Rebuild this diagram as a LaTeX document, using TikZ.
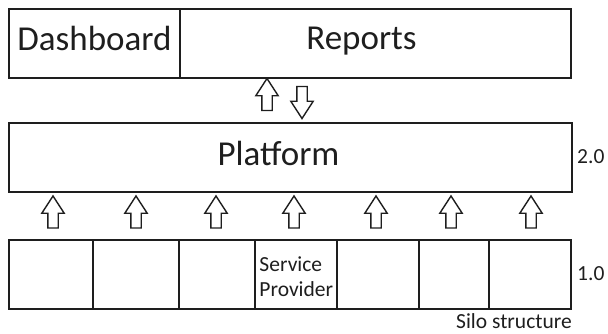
\documentclass[tikz,border=0pt]{standalone}
\usepackage{fontspec}
\setmainfont{Carlito}
\usepackage{tikz}
\usetikzlibrary{calc,shapes.arrows}
\definecolor{ink}{HTML}{1E1E1E}
\tikzset{
  box/.style={draw=ink, line width=1.6pt, rectangle, inner sep=0pt, anchor=north west},
  blockarrow/.style={draw=ink, line width=1.4pt, fill=white, single arrow,
    single arrow head extend=6pt, single arrow tip angle=66, single arrow head indent=0pt,
    inner xsep=0pt, inner ysep=4.5pt, minimum height=32pt, minimum width=1pt},
  big/.style={text=ink, font=\fontsize{35}{42}\selectfont, inner sep=0pt},
  small/.style={text=ink, font=\fontsize{21.5}{25}\selectfont, inner sep=0pt}
}

\begin{document}
\begin{tikzpicture}[x=1pt, y=-1pt]
  \useasboundingbox (0,0) rectangle (608,334);

  % top layer
  \node[box, minimum width=171pt, minimum height=69pt] (dash) at (8,8) {};
  \node[box, minimum width=391pt, minimum height=69pt] (reports) at (179,8) {};
  \node[big, anchor=base] (dashtxt) at (94.5,51) {Dashboard};
  \node[big, anchor=base] (reptxt) at (361.5,49.5) {Reports};

  % platform
  \node[box, minimum width=563pt, minimum height=69pt] (plat) at (8,122) {};
  \node[big, anchor=base] (plattxt) at (278.5,165) {Platform};
  \node[small, anchor=west] (v2) at (577,156.5) {2.0};

  % silos
  \foreach \i/\a/\b in {1/8/92, 2/92/178, 3/178/254, 4/254/336, 5/336/418, 6/418/488, 7/488/570}
    \node[box, minimum width={\b pt-\a pt}, minimum height=69pt] (c\i) at (\a,239) {};
  \node[small, align=left] (sp) at ($(c4.center)+(0.5,2.5)$) {Service\\Provider};
  \node[small, anchor=west] (v1) at (577,274) {1.0};
  \node[small, anchor=base east] (silo) at (572,328.5) {Silo structure};

  % arrows
  \node[blockarrow, rotate=90] (upr) at (267,98.5) {};
  \node[blockarrow, rotate=-90] (downr) at (302,98.5) {};
  \foreach \i/\x in {1/53, 2/136, 3/216, 4/294, 5/376, 6/451, 7/531}
    \node[blockarrow, rotate=90] (up\i) at (\x,216) {};
\end{tikzpicture}
\end{document}
